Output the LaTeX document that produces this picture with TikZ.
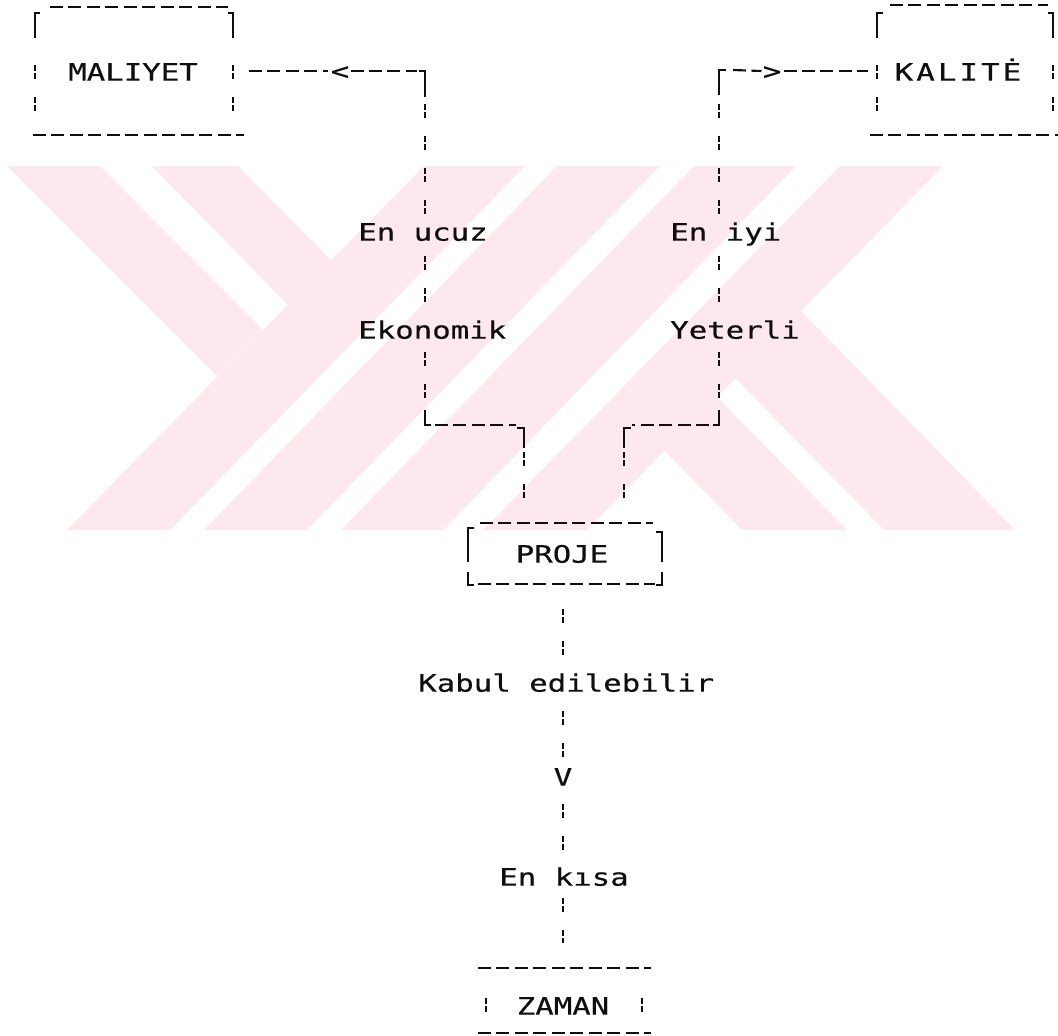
\documentclass[tikz,border=0pt]{standalone}
\usepackage{fontspec}
\usetikzlibrary{calc}
\newfontfamily\dotfont[FakeStretch=1.28,FakeBold=0.5]{DejaVu Sans Mono}
\definecolor{wm}{RGB}{253,233,237}
\definecolor{ink}{RGB}{15,15,15}
\begin{document}
\begin{tikzpicture}[x=0.75pt,y=-0.75pt,
  hy/.style={ink,line width=1.6pt,dash pattern=on 9.75pt off 4.1pt},
  vm/.style={ink,line width=2pt,dash pattern=on 4.5pt off 1.5pt on 4.5pt off 13.5pt},
  bar/.style={ink,line width=2pt},
  txt/.style={font=\dotfont\fontsize{18}{20}\selectfont,inner sep=0pt,text=ink,
              text height=13pt,text depth=0pt},
  wmark/.style={fill=wm,draw=none}]
\useasboundingbox (0,0) rectangle (1058,1036);
% ---------- watermark ----------
\fill[wmark] (424,166) -- (525,166) -- (170,530) -- (67,530) -- cycle;
\fill[wmark] (557,166) -- (660,166) -- (307,530) -- (204,530) -- cycle;
\fill[wmark] (694,166) -- (796,166) -- (443,530) -- (341,530) -- cycle;
\fill[wmark] (840,166) -- (943,166) -- (587,530) -- (483,530) -- cycle;
\fill[wmark] (7,166) -- (100,166) -- (263,330) -- (217,376) -- cycle;
\fill[wmark] (152,166) -- (238,166) -- (382,312) -- (338,356) -- cycle;
\fill[wmark] (742,530) -- (847,530) -- (665,344) -- (613,398) -- cycle;
\fill[wmark] (884,530) -- (1015,530) -- (801,311) -- (735,378) -- cycle;
% ---------- text nodes ----------
\node[txt] (mal) at (133,72) {MALIYET};
\node[txt] (kal) at (958,72) {\addfontfeature{LetterSpace=13}KALITĖ};
\node[txt] (proje) at (562,554) {PROJE};
\node[txt] (zaman) at (563,1006) {ZAMAN};
\node[txt,anchor=west] (enucuz) at (358,232) {En ucuz};
\node[txt,anchor=west] (ekon) at (358,330) {Ekonomik};
\node[txt,anchor=west] (eniyi) at (670,232) {En iyi};
\node[txt,anchor=west] (yeterli) at (670,330) {Yeterli};
\node[txt,anchor=west] (kabul) at (418,683) {Kabul edilebilir};
\node[txt] (vv) at (563,777) {V};
\node[txt] (enkisa) at (564,877) {En kısa};
\node[txt] (lt) at (340,71) {<};
\node[txt] (gt) at (772,71) {>};
% ---------- boxes ----------
% MALIYET
\draw[hy] (50,7) -- (228,7);
\draw[bar] (40,13) -- (35,13) -- (35,38);
\draw[vm] (35,65) -- (35,111);
\draw[bar] (228,13) -- (233,13) -- (233,38);
\draw[vm] (233,65) -- (233,111);
\draw[hy] (33,135) -- (244,135);
% KALITE
\draw[hy] (890,5) -- (1048,5);
\draw[bar] (883,13) -- (877,13) -- (877,38);
\draw[vm] (877,65) -- (877,111);
\draw[bar] (1048,13) -- (1053,13) -- (1053,38);
\draw[vm] (1053,65) -- (1053,111);
\draw[hy] (870,135) -- (1058,135);
% PROJE
\draw[hy] (480,523) -- (653,523);
\draw[bar] (474,528) -- (468,528) -- (468,562);
\draw[bar] (656,532) -- (662,532) -- (662,562);
\draw[bar] (468,572) -- (468,585) -- (474,585);
\draw[hy] (478,584) -- (655,584);
\draw[bar] (656,585) -- (662,585) -- (662,572);
% ZAMAN
\draw[hy] (478,968) -- (651,968);
\draw[vm] (486,998) -- (486,1014);
\draw[vm] (642,998) -- (642,1014);
\draw[hy] (478,1033) -- (651,1033);
% ---------- connector coordinates ----------
\coordinate (malR) at (249,71);
\coordinate (kalL) at (868,71);
\coordinate (lA) at (425,71);
\coordinate (lB) at (425,425);
\coordinate (lC) at (524,428);
\coordinate (rA) at (719,70);
\coordinate (rB) at (719,425);
\coordinate (rC) at (624,428);
\coordinate (pB) at (563,584);
% ---------- left route (MALIYET) ----------
\draw[hy] (malR) -- ($(lt.west)+(-2,0)$);
\draw[hy] ($(lt.east)+(1,0)$) -- ($(lA)+(-8,0)$);
\draw[bar] ($(lA)+(-6,0)$) -- (lA) -- ++(0,26);
\draw[vm] ($(lA)+(0,33)$) -- ($(lA |- enucuz.north)+(0,-8)$);
\draw[vm] ($(lA |- enucuz.south)+(0,15)$) -- ($(lA |- ekon.north)+(0,-16)$);
\draw[vm] ($(lA |- ekon.south)+(0,13)$) -- ($(lB)+(0,-22)$);
\draw[bar] ($(lB)+(0,-15)$) -- (lB) -- ++(6,0);
\draw[hy] ($(lB)+(10,0)$) -- ($(lC |- lB)+(-8,0)$);
\draw[bar] ($(lC)+(-7,0)$) -- (lC) -- ++(0,20);
\draw[vm] ($(lC)+(0,24)$) -- ($(lC)+(0,72)$);
% ---------- right route (KALITE) ----------
\draw[bar] ($(rA)+(0,25)$) -- (rA) -- ++(7,0);
\draw[hy] ($(rA)+(14,0)$) -- ($(gt.west)+(-1,0)$);
\draw[hy] ($(gt.east)+(2,0)$) -- (kalL);
\draw[vm] ($(rA)+(0,34)$) -- ($(rA |- eniyi.north)+(0,-8)$);
\draw[vm] ($(rA |- eniyi.south)+(0,15)$) -- ($(rA |- yeterli.north)+(0,-16)$);
\draw[vm] ($(rA |- yeterli.south)+(0,13)$) -- ($(rB)+(0,-22)$);
\draw[bar] ($(rB)+(0,-15)$) -- (rB) -- ++(-6,0);
\draw[hy] ($(rB)+(-10,0)$) -- ($(rC |- rB)+(8,0)$);
\draw[bar] ($(rC)+(7,0)$) -- (rC) -- ++(0,20);
\draw[vm] ($(rC)+(0,24)$) -- ($(rC)+(0,72)$);
% ---------- lower route (ZAMAN) ----------
\draw[vm] ($(pB)+(0,25)$) -- ($(pB |- kabul.north)+(0,-14)$);
\draw[vm] ($(pB |- kabul.south)+(0,19)$) -- ($(vv.north)+(0,-11)$);
\draw[vm] ($(vv.south)+(0,18)$) -- ($(pB |- enkisa.north)+(0,-18)$);
\draw[vm] ($(pB |- enkisa.south)+(0,12)$) -- ($(pB |- zaman.north)+(0,-54)$);
\end{tikzpicture}
\end{document}
